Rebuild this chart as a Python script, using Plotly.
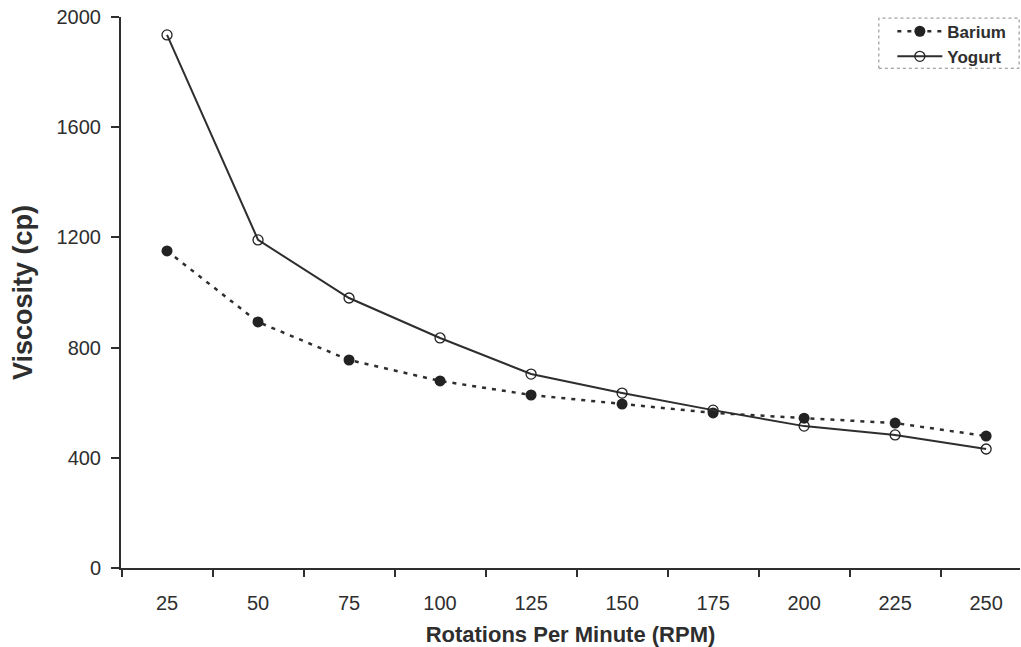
import plotly.graph_objects as go

rpm = [25, 50, 75, 100, 125, 150, 175, 200, 225, 250]
barium = [1151, 893, 755, 679, 628, 595, 563, 544, 526, 479]
yogurt = [1935, 1191, 980, 835, 704, 635, 573, 515, 483, 432]
y_ticks = [0, 400, 800, 1200, 1600, 2000]

FONT = "Arial, Liberation Sans, sans-serif"
INK = "#2e2e2e"

fig = go.Figure()
fig.add_trace(go.Scatter(
    x=rpm, y=barium, name="Barium", mode="lines+markers",
    line=dict(color=INK, width=2.5, dash="4px,6px"),
    marker=dict(symbol="circle", size=11, color="#222222"),
))
fig.add_trace(go.Scatter(
    x=rpm, y=yogurt, name="Yogurt", mode="lines+markers",
    line=dict(color=INK, width=2),
    marker=dict(symbol="circle-open", size=10, color="#222222", line=dict(width=1.3)),
))

fig.add_shape(type="rect", xref="paper", yref="paper",
              x0=0.843, x1=0.999, y0=0.907, y1=0.998,
              line=dict(color="#888888", width=1, dash="dot"),
              fillcolor="rgba(0,0,0,0)")

fig.update_layout(
    width=1021, height=647,
    margin=dict(l=121, r=1, t=17, b=79),
    paper_bgcolor="white", plot_bgcolor="white",
    font=dict(family=FONT, color=INK),
    showlegend=True,
    legend=dict(x=0.858, y=1.006, xanchor="left", yanchor="top",
                bgcolor="rgba(0,0,0,0)", borderwidth=0,
                font=dict(family=FONT, size=17, color=INK, weight="bold"),
                tracegroupgap=2, itemwidth=45),
    xaxis=dict(
        range=[12.36, 259.3], showgrid=False, zeroline=False,
        showline=True, linecolor=INK, linewidth=2,
        tickmode="array", tickvals=rpm, ticktext=[str(v) for v in rpm],
        ticks="", tickfont=dict(size=20, color=INK),
        ticklabelstandoff=16,
        minor=dict(tick0=12.5, dtick=25, ticks="outside", ticklen=7,
                   tickwidth=2, tickcolor=INK, showgrid=False),
        title=dict(text="Rotations Per Minute (RPM)", standoff=14,
                   font=dict(size=22, color=INK, weight="bold")),
    ),
    yaxis=dict(
        range=[0, 2000], showgrid=False, zeroline=False,
        showline=True, linecolor=INK, linewidth=2,
        tickmode="array", tickvals=y_ticks,
        ticks="outside", ticklen=8, tickwidth=2, tickcolor=INK,
        tickfont=dict(size=20, color=INK),
        ticklabelstandoff=6,
        title=dict(text="Viscosity (cp)", standoff=16,
                   font=dict(size=27, color=INK, weight="bold")),
    ),
)

fig.write_html("out.html", config={"displayModeBar": False},
               post_script="document.body.style.margin='0';")
